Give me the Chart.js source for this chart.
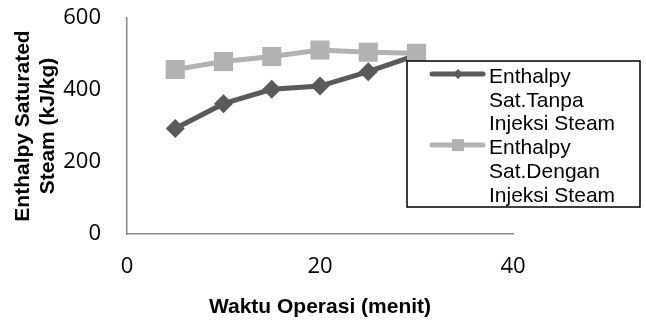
<!DOCTYPE html>
<html>
<head>
<meta charset="utf-8">
<script src="https://cdn.jsdelivr.net/npm/chart.js@4/dist/chart.umd.min.js"></script>
<style>
  html, body { margin: 0; padding: 0; background: #ffffff; }
  #wrap { width: 646px; height: 320px; }
</style>
</head>
<body>
<div id="wrap"><canvas id="c" width="646" height="320"></canvas></div>
<script>
// ---- data ----
const waktu = [5, 10, 15, 20, 25, 30];
const tanpaInjeksi = [293, 362, 402, 411, 451, 497];
const denganInjeksi = [457, 479, 493, 511, 505, 502];
const seriesNames = ['Enthalpy Sat.Tanpa Injeksi Steam', 'Enthalpy Sat.Dengan Injeksi Steam'];
const xTitle = 'Waktu Operasi (menit)';
const yTitle = ['Enthalpy Saturated', 'Steam (kJ/kg)'];
const xTicks = [0, 20, 40];
const yTicks = [0, 200, 400, 600];

const DARK = '#5a5a5a';
const LIGHT = '#b2b2b2';

const toPoints = (xs, ys) => xs.map((x, i) => ({ x: x, y: ys[i] }));

// custom legend drawn inside plot area (like the original)
const boxLegend = {
  id: 'boxLegend',
  afterDraw(chart) {
    const ctx = chart.ctx;
    const bx = 407, by = 61, bw = 233, bh = 146;
    ctx.save();
    ctx.fillStyle = '#ffffff';
    ctx.fillRect(bx, by, bw, bh);
    ctx.lineWidth = 1.5;
    ctx.strokeStyle = '#000000';
    ctx.strokeRect(bx, by, bw, bh);
    ctx.font = '21px "Liberation Sans", Arial, sans-serif';
    ctx.textBaseline = 'alphabetic';
    ctx.textAlign = 'left';
    const lineStep = 23.7;
    let baseY = 83;
    const textX = 489;
    const maxW = 140;
    [0, 1].forEach((di) => {
      const ds = chart.data.datasets[di];
      const words = ds.label.split(' ');
      const lines = [];
      let cur = '';
      words.forEach(w => {
        const test = cur ? cur + ' ' + w : w;
        if (cur && ctx.measureText(test).width > maxW) { lines.push(cur); cur = w; }
        else cur = test;
      });
      if (cur) lines.push(cur);
      const ly = baseY - 9;
      ctx.strokeStyle = ds.borderColor;
      ctx.lineWidth = 5;
      ctx.lineCap = 'round';
      ctx.beginPath();
      ctx.moveTo(432, ly);
      ctx.lineTo(483, ly);
      ctx.stroke();
      ctx.fillStyle = ds.borderColor;
      ctx.beginPath();
      if (ds.pointStyle === 'rectRot') {
        const r = 5;
        ctx.moveTo(458 - r, ly); ctx.lineTo(458, ly - r); ctx.lineTo(458 + r, ly); ctx.lineTo(458, ly + r);
        ctx.closePath();
      } else {
        ctx.rect(452, ly - 6, 12, 12);
      }
      ctx.fill();
      ctx.fillStyle = '#000000';
      lines.forEach((t, k) => {
        ctx.fillText(t, textX, baseY + k * lineStep);
      });
      baseY += lines.length * lineStep;
    });
    ctx.restore();
  }
};

new Chart(document.getElementById('c'), {
  type: 'line',
  data: {
    datasets: [
      {
        label: seriesNames[0],
        data: toPoints(waktu, tanpaInjeksi),
        borderColor: DARK,
        backgroundColor: DARK,
        borderWidth: 5,
        pointStyle: 'rectRot',
        pointRadius: 9.5,
        pointBorderWidth: 0,
        pointBackgroundColor: DARK,
        tension: 0,
        order: 1
      },
      {
        label: seriesNames[1],
        data: toPoints(waktu, denganInjeksi),
        borderColor: LIGHT,
        backgroundColor: LIGHT,
        borderWidth: 5,
        pointStyle: 'rect',
        pointRadius: 13.5,
        pointBorderWidth: 0,
        pointBackgroundColor: LIGHT,
        tension: 0,
        order: 0
      }
    ]
  },
  options: {
    responsive: false,
    animation: false,
    devicePixelRatio: 1,
    layout: { padding: { left: 0, right: 133, top: 18, bottom: 0 } },
    plugins: { legend: { display: false }, tooltip: { enabled: false }, title: { display: false } },
    scales: {
      x: {
        type: 'linear',
        min: 0, max: 40,
        afterBuildTicks: (s) => { s.ticks = xTicks.map(v => ({ value: v })); },
        afterFit: (s) => { s.height = 86; s.paddingLeft = 0; s.paddingRight = 0; },
        grid: { display: false, drawTicks: false, tickLength: 0 },
        border: { display: true, color: '#878787', width: 1.5 },
        ticks: { color: '#000000', padding: 20, font: { family: '"Open Sans", sans-serif', size: 22 }, maxRotation: 0 },
        title: { display: true, text: xTitle, color: '#000000', padding: { top: 0, bottom: 0 },
                 font: { family: '"Liberation Sans", Arial, sans-serif', size: 21, weight: 'bold' } }
      },
      y: {
        type: 'linear',
        min: 0, max: 600,
        afterBuildTicks: (s) => { s.ticks = yTicks.map(v => ({ value: v })); },
        afterFit: (s) => { s.width = 127; s.paddingTop = 0; s.paddingBottom = 0; },
        grid: { display: false, drawTicks: false, tickLength: 0 },
        border: { display: true, color: '#878787', width: 1.5 },
        ticks: { color: '#000000', padding: 26, font: { family: '"Open Sans", sans-serif', size: 22 } },
        title: { display: true, text: yTitle, color: '#000000', padding: { top: 10.5, bottom: 0 },
                 font: { family: '"Liberation Sans", Arial, sans-serif', size: 21, weight: 'bold', lineHeight: '25px' } }
      }
    }
  },
  plugins: [boxLegend]
});
</script>
</body>
</html>
